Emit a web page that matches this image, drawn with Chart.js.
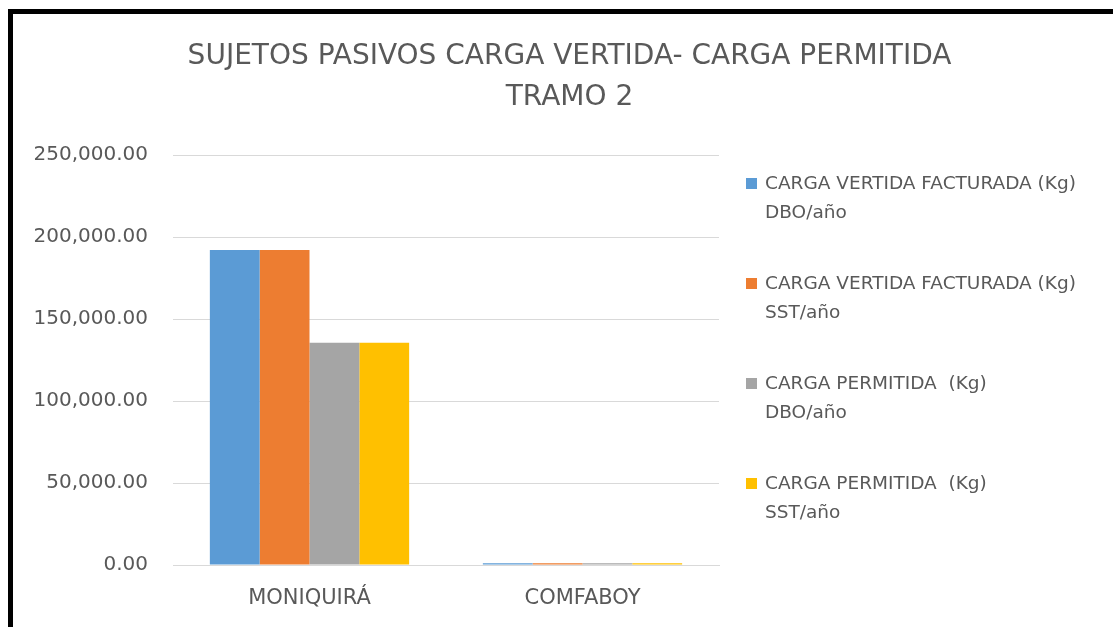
<!DOCTYPE html>
<html>
<head>
<meta charset="utf-8">
<script src="https://cdn.jsdelivr.net/npm/chart.js@4/dist/chart.umd.min.js"></script>
<style>
  html, body { margin: 0; padding: 0; background: #fff; }
  #wrap { position: relative; width: 1113px; height: 627px; overflow: hidden; }
  #frame { position: absolute; left: 8px; top: 9px; right: 0; bottom: 0; border-top: 5px solid #000; border-left: 5px solid #000; }
  #c { position: absolute; left: 0; top: 0; }
  #legend { position: absolute; left: 746px; top: 168px; font-family: "DejaVu Sans", sans-serif; font-size: 18.5px; color: #595959; }
  .item { position: relative; height: 100px; padding-left: 19px; line-height: 29px; white-space: pre; }
  .sw { position: absolute; left: 0; top: 10px; width: 11px; height: 11px; }
</style>
</head>
<body>
<div id="wrap">
  <div id="frame"></div>
  <canvas id="c" width="1113" height="627"></canvas>
  <div id="legend"></div>
</div>
<script>
const titleLines = ["SUJETOS PASIVOS CARGA VERTIDA- CARGA PERMITIDA", "TRAMO 2"];
const categories = ["MONIQUIRÁ", "COMFABOY"];
const seriesNames = [
  ["CARGA VERTIDA FACTURADA (Kg)", "DBO/año"],
  ["CARGA VERTIDA FACTURADA (Kg)", "SST/año"],
  ["CARGA PERMITIDA  (Kg)", "DBO/año"],
  ["CARGA PERMITIDA  (Kg)", "SST/año"]
];
const vertidaDBO = [192000, 1100];
const vertidaSST = [192000, 1100];
const permitidaDBO = [135500, 1100];
const permitidaSST = [135500, 1100];
const seriesColors = ["#5B9BD5", "#ED7D31", "#A5A5A5", "#FFC000"];
const yTicks = [0, 50000, 100000, 150000, 200000, 250000];

const seriesValues = [vertidaDBO, vertidaSST, permitidaDBO, permitidaSST];
const datasets = seriesValues.map((vals, i) => ({
  label: seriesNames[i].join(" "),
  data: vals,
  backgroundColor: seriesColors[i],
  borderWidth: 0,
  barPercentage: 1,
  categoryPercentage: 0.73
}));

const fmt = v => v.toLocaleString("en-US", { minimumFractionDigits: 2, maximumFractionDigits: 2 });

new Chart(document.getElementById("c"), {
  type: "bar",
  data: { labels: categories, datasets },
  options: {
    responsive: false,
    animation: false,
    devicePixelRatio: 1,
    layout: { padding: { left: 26, right: 0, top: 0, bottom: 0 } },
    plugins: {
      legend: { display: false },
      tooltip: { enabled: false },
      title: {
        display: true,
        text: titleLines,
        color: "#595959",
        font: { family: "'DejaVu Sans', sans-serif", size: 28, weight: "normal", lineHeight: 41 / 28 },
        padding: { top: 36, bottom: 37 }
      }
    },
    scales: {
      x: {
        grid: { display: false, drawTicks: false },
        border: { display: true, color: "#D9D9D9", width: 1 },
        ticks: { color: "#595959", padding: 21, font: { family: "'DejaVu Sans', sans-serif", size: 21 } },
        afterFit: s => { s.height = 62; }
      },
      y: {
        min: 0,
        max: 250000,
        afterBuildTicks: s => { s.ticks = yTicks.map(v => ({ value: v })); },
        grid: { color: "#D9D9D9", lineWidth: 1, drawTicks: false },
        border: { display: false },
        ticks: { color: "#595959", padding: 25, font: { family: "'DejaVu Sans', sans-serif", size: 20 }, callback: v => fmt(v) },
        afterFit: s => { s.width = 147; }
      },
      legendSpace: {
        position: "right",
        display: true,
        grid: { display: false, drawTicks: false },
        border: { display: false },
        ticks: { display: false },
        afterFit: s => { s.width = 394; }
      }
    }
  }
});

const lg = document.getElementById("legend");
seriesNames.forEach((lines, i) => {
  const it = document.createElement("div");
  it.className = "item";
  const sw = document.createElement("span");
  sw.className = "sw";
  sw.style.background = seriesColors[i];
  it.appendChild(sw);
  lines.forEach(t => {
    const d = document.createElement("div");
    d.textContent = t;
    it.appendChild(d);
  });
  lg.appendChild(it);
});
</script>
</body>
</html>
